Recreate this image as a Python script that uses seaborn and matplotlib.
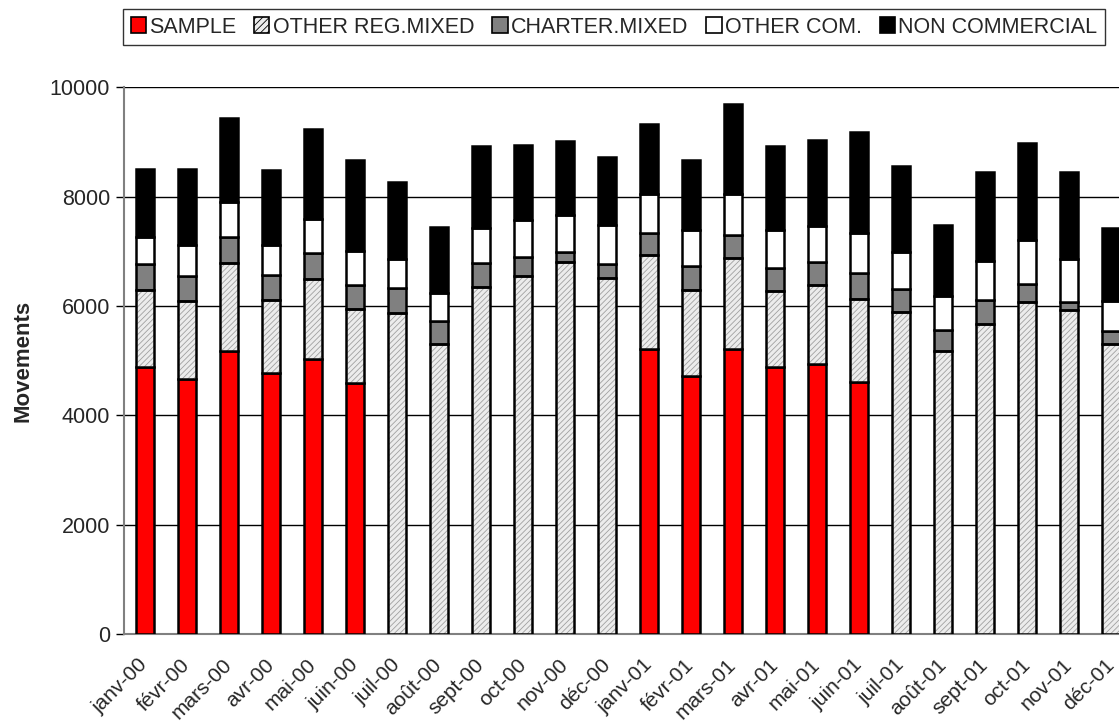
import matplotlib
matplotlib.use("Agg")
import matplotlib.pyplot as plt
import seaborn as sns
from matplotlib.patches import Patch

months = ["janv-00", "févr-00", "mars-00", "avr-00", "mai-00", "juin-00",
          "juil-00", "août-00", "sept-00", "oct-00", "nov-00", "déc-00",
          "janv-01", "févr-01", "mars-01", "avr-01", "mai-01", "juin-01",
          "juil-01", "août-01", "sept-01", "oct-01", "nov-01", "déc-01"]

sample = [4880, 4660, 5180, 4770, 5025, 4585, 0, 0, 0, 0, 0, 0,
          5210, 4720, 5220, 4885, 4935, 4615, 0, 0, 0, 0, 0, 0]
other_reg_mixed = [1410, 1440, 1610, 1345, 1475, 1365, 5865, 5310, 6355, 6545, 6810, 6520,
                   1730, 1565, 1650, 1385, 1445, 1520, 5885, 5175, 5665, 6080, 5930, 5310]
charter_mixed = [480, 440, 470, 450, 470, 440, 470, 415, 430, 355, 185, 255,
                 400, 450, 435, 430, 430, 460, 420, 390, 450, 315, 150, 225]
other_com = [500, 575, 635, 545, 625, 620, 520, 520, 635, 675, 670, 705,
             705, 655, 750, 685, 655, 735, 690, 625, 710, 810, 775, 555]
non_commercial = [1235, 1385, 1540, 1370, 1650, 1655, 1420, 1195, 1510, 1370, 1355, 1240,
                  1290, 1275, 1645, 1545, 1570, 1845, 1570, 1285, 1620, 1775, 1590, 1340]

series_names = ["SAMPLE", "OTHER REG.MIXED", "CHARTER.MIXED", "OTHER COM.", "NON COMMERCIAL"]
series_values = [sample, other_reg_mixed, charter_mixed, other_com, non_commercial]
series_colors = ["#ff0000", "#ececec", "#808080", "#ffffff", "#000000"]

sns.set_theme(style="white")
plt.rcParams["font.family"] = ["Liberation Sans", "DejaVu Sans"]
plt.rcParams["hatch.linewidth"] = 0.6

fig = plt.figure(figsize=(11.19, 7.27), dpi=100)
ax = fig.add_axes([124 / 1119, 93 / 727, 1008 / 1119, 546.7 / 727])

bar_w = 0.43
edge_lw = 1.8
bottom = [0] * len(months)
for name, vals, col in zip(series_names, series_values, series_colors):
    if name == "OTHER REG.MIXED":
        # fine diagonal texture in grey, then a black outline on top
        sns.barplot(x=months, y=vals, order=months, bottom=bottom, color=col,
                    saturation=1, width=bar_w, edgecolor="#a0a0a0", hatch="//////",
                    linewidth=0, ax=ax, zorder=3)
        sns.barplot(x=months, y=vals, order=months, bottom=bottom, color="black",
                    fill=False, width=bar_w, linewidth=edge_lw, ax=ax, zorder=4)
    else:
        sns.barplot(x=months, y=vals, order=months, bottom=bottom, color=col,
                    saturation=1, width=bar_w, edgecolor="black",
                    linewidth=edge_lw, ax=ax, zorder=3)
    bottom = [b + v for b, v in zip(bottom, vals)]

ax.set_xlim(-0.5, len(months) - 0.5)
ax.set_ylim(0, 10000)
ax.set_yticks(range(0, 10001, 2000))
ax.set_yticklabels([str(v) for v in range(0, 10001, 2000)], fontsize=15.5)
ax.yaxis.grid(True, color="black", linewidth=1.0, zorder=0)
ax.set_axisbelow(True)
ax.xaxis.grid(False)

for side in ["top", "right"]:
    ax.spines[side].set_visible(False)
for side in ["left", "bottom"]:
    ax.spines[side].set_visible(True)
    ax.spines[side].set_color("#808080")
    ax.spines[side].set_linewidth(1.5)

ax.tick_params(axis="y", which="major", left=True, length=6, width=1, color="black", pad=4)
ax.tick_params(axis="x", length=0, pad=20)
ax.set_xticks(range(len(months)))
ax.set_xticklabels(months, rotation=45, ha="right", va="center",
                   rotation_mode="anchor", fontsize=15)
ax.set_xlabel("")
ax.set_ylabel("Movements", fontsize=16, fontweight="bold", labelpad=12)

handles = [
    Patch(facecolor="#ff0000", edgecolor="black", linewidth=1.2),
    Patch(facecolor="#ececec", edgecolor="black", linewidth=1.2, hatch="/////"),
    Patch(facecolor="#808080", edgecolor="black", linewidth=1.2),
    Patch(facecolor="#ffffff", edgecolor="black", linewidth=1.2),
    Patch(facecolor="#000000", edgecolor="black", linewidth=1.2),
]
leg = fig.legend(handles, series_names, loc="upper right",
                 bbox_to_anchor=(1105 / 1119, 1 - 9 / 727), ncol=5,
                 frameon=True, fancybox=False, shadow=False, borderaxespad=0,
                 fontsize=15.5, handlelength=0.7, handleheight=0.7,
                 handletextpad=0.15, columnspacing=0.85, borderpad=0.35)
leg.get_frame().set_edgecolor("black")
leg.get_frame().set_linewidth(1.0)
leg.get_frame().set_facecolor("white")

fig.savefig("out.png", dpi=100)
